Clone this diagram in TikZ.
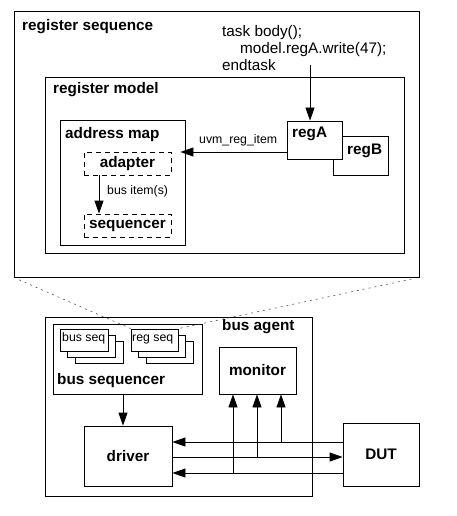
\documentclass[tikz,border=0pt]{standalone}
\usepackage{fontspec}
\setmainfont{Liberation Sans}
\usetikzlibrary{arrows.meta}
\tikzstyle{box}=[draw,rectangle,line width=0.8pt,inner sep=0pt]
\tikzstyle{dbox}=[box,dash pattern=on 5pt off 4pt,font=\bfseries\fontsize{15.3}{17}\selectfont]
\tikzstyle{title}=[anchor=base west,inner sep=0pt,font=\bfseries\fontsize{15.3}{17}\selectfont]
\tikzstyle{code}=[anchor=base west,inner sep=0pt,font=\fontsize{15.3}{17}\selectfont]
\tikzstyle{small}=[anchor=base west,inner sep=0pt,font=\fontsize{12.3}{14}\selectfont]
\tikzstyle{arr}=[-{Triangle[length=13pt,width=9pt]},line width=0.8pt]
\tikzstyle{zoomline}=[gray!70!black,line width=0.6pt,dash pattern=on 2pt off 4pt]

\begin{document}
\begin{tikzpicture}[x=1pt,y=-1pt]
\useasboundingbox (0,0) rectangle (457,516);

% register sequence
\node[box,minimum width=405pt,minimum height=266pt] (regseq) at (216.5,144) {};
\node[title] (lregseq) at (22,31) {register sequence};
\node[code] (code1) at (222,37) {task body();};
\node[code] (code2) at (240,54) {model.regA.write(47);};
\node[code] (code3) at (222,71) {endtask};

\node[box,minimum width=359pt,minimum height=176pt] (regmodel) at (224.5,165) {};
\node[title] (lregmodel) at (53,94) {register model};

\node[box,minimum width=125pt,minimum height=125pt] (amap) at (122.5,182.5) {};
\node[title] (lamap) at (65,138) {address map};
\node[dbox,minimum width=87pt,minimum height=23pt] (adapter) at (127.5,163.5) {adapter};
\node[dbox,minimum width=87pt,minimum height=23pt] (sequencer) at (127.5,225.5) {sequencer};
\node[small] (lbusitem) at (107,194) {bus item(s)};

\node[box,minimum width=55pt,minimum height=39pt] (regB) at (360.5,155.5) {};
\node[title] (lregB) at (347,154) {regB};
\node[box,fill=white,minimum width=55pt,minimum height=38pt] (regA) at (314.5,140) {};
\node[title] (lregA) at (292,137) {regA};

\coordinate (wr) at (310,65);
\draw[arr] (wr) -- (wr |- regA.north);
\draw[arr,shorten >=-5pt] ([yshift=-12pt]regA.west) -- ([yshift=-12pt]regA.west -| amap.east);
\node[small] (luvm) at (199,143) {uvm\_reg\_item};
\draw[arr] ([xshift=-28.5pt]adapter.south) -- ([xshift=-28.5pt]sequencer.north);

% bus agent
\node[box,minimum width=267pt,minimum height=179pt] (agent) at (178.5,406.5) {};
\node[title] (lagent) at (222,330) {bus agent};
\node[box,minimum width=149pt,minimum height=70pt] (bseqr) at (127.5,359) {};
\node[title] (lbseqr) at (57,384) {bus sequencer};

\node[box,fill=white,minimum width=48pt,minimum height=22pt] (bseq3) at (99,352) {};
\node[box,fill=white,minimum width=48pt,minimum height=22pt] (bseq2) at (91.5,346) {};
\node[box,fill=white,minimum width=48pt,minimum height=22pt] (bseq1) at (84,340) {};
\node[small] (lbseq) at (62,341) {bus seq};
\node[box,fill=white,minimum width=47pt,minimum height=22pt] (rseq3) at (169.5,352) {};
\node[box,fill=white,minimum width=47pt,minimum height=22pt] (rseq2) at (162,346) {};
\node[box,fill=white,minimum width=47pt,minimum height=22pt] (rseq1) at (154.5,340) {};
\node[small] (lrseq) at (132,341) {reg seq};

\node[box,minimum width=77pt,minimum height=47pt,font=\bfseries\fontsize{15.3}{17}\selectfont] (monitor) at (257.5,370.5) {monitor};
\node[box,minimum width=88pt,minimum height=60pt,font=\bfseries\fontsize{15.3}{17}\selectfont] (driver) at (128,456) {driver};
\node[box,minimum width=76pt,minimum height=63pt,font=\bfseries\fontsize{15.3}{17}\selectfont] (DUT) at (381,454.5) {DUT};

\draw[arr] ([xshift=-4.5pt]bseqr.south) -- ([xshift=-4.5pt]bseqr.south |- driver.north);

\coordinate (t1) at (281,442);
\coordinate (t2) at (257,457);
\coordinate (t3) at (233,473);
\draw[arr] (DUT.west |- t1) -- (driver.east |- t1);
\draw[arr] (driver.east |- t2) -- (DUT.west |- t2);
\draw[arr,{Triangle[length=13pt,width=9pt]}-] (driver.east |- t3) -- (DUT.west |- t3);
\draw[arr] (t1) -- (t1 |- monitor.south);
\draw[arr] (t2) -- (t2 |- monitor.south);
\draw[arr] (t3) -- (t3 |- monitor.south);

% zoom lines
\draw[zoomline,shorten <=6pt] (regseq.south west) -- (rseq1.north west);
\draw[zoomline,shorten <=8pt] (regseq.south east) -- (rseq1.north east);

\end{tikzpicture}
\end{document}
